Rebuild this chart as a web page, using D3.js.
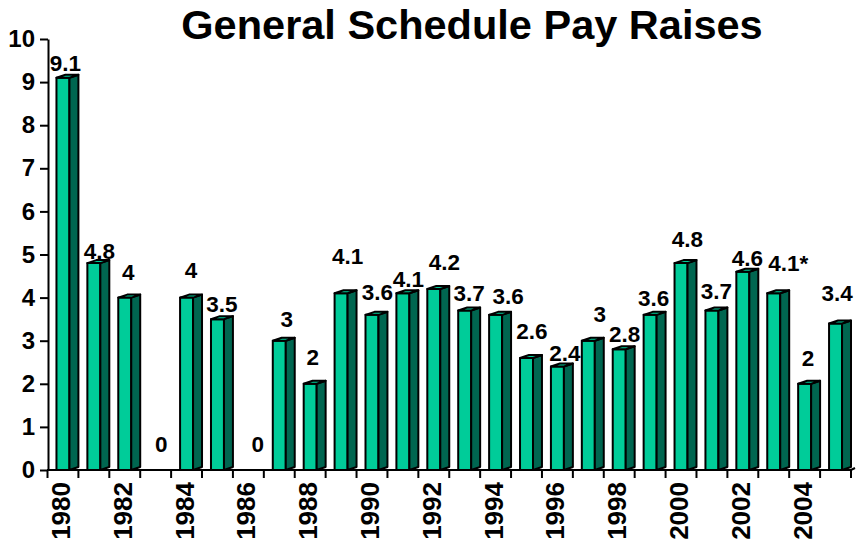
<!DOCTYPE html>
<html>
<head>
<meta charset="utf-8">
<script src="https://cdn.jsdelivr.net/npm/d3@7"></script>
<style>
    body { margin: 0; background: #fff; }
    svg { display: block; font-family: "Liberation Sans", Arial, sans-serif; font-weight: bold; }
</style>
</head>
<body>
<svg id="chart" width="858" height="542"></svg>
<script>
// data
const years = d3.range(1980, 2006);
const raises = [9.1, 4.8, 4, 0, 4, 3.5, 0, 3, 2, 4.1, 3.6, 4.1, 4.2, 3.7, 3.6, 2.6, 2.4, 3, 2.8, 3.6, 4.8, 3.7, 4.6, 4.1, 2, 3.4];
const footnoted = [2003];
const yTicks = [0, 1, 2, 3, 4, 5, 6, 7, 8, 9, 10];
const yearLabels = years.filter(y => y % 2 === 0 && y < 2005);
const title = "General Schedule Pay Raises";

// hand placed label nudges [dx, lift above bar], like the original chart
const labelNudge = [
    [-2, 7], [1, 4], [-1, 18], [1, 18], [0, 20], [0, 7], [5, 18], [3, 14], [-2, 19], [2, 29],
    [1, 15], [1, 6], [6, 19], [0, 10], [8, 11], [1, 19], [3, 6], [7, 19], [1, 7], [-1, 9],
    [2, 16], [0, 12], [0, 6], [10, 22], [-1, 18], [-3, 22]
];

const front = '#00cc99';
const side = '#006650';
const depth = 3;

const svg = d3.select('#chart');

const x = d3.scaleBand()
    .domain(years)
    .range([47.5, 851])
    .padding(0);
const y = d3.scaleLinear()
    .domain([0, 10])
    .range([470, 39]);
const bw = x.bandwidth();

svg.append('text')
    .attr('x', 472)
    .attr('y', 39)
    .attr('text-anchor', 'middle')
    .attr('font-size', '41.5px')
    .text(title);

// bars
const bars = svg.append('g').attr('class', 'bars')
    .selectAll('g')
    .data(years.map((yr, i) => ({year: yr, value: raises[i], i: i})))
    .enter().append('g');

bars.each(function (d) {
    const g = d3.select(this);
    const x0 = x(d.year) + bw * 0.29;
    const x1 = x0 + bw * 0.42;
    const x2 = x(d.year) + bw;
    const top = y(d.value);
    const base = y(0);
    if (d.value > 0) {
        g.append('path')
            .attr('d', `M${x0},${base} L${x0},${top} L${x1},${top} L${x1},${base} Z`)
            .style('fill', front);
        g.append('path')
            .attr('d', `M${x1},${base} L${x1},${top} L${x2},${top - depth} L${x2},${base - depth} Z`)
            .style('fill', side);
        g.append('path')
            .attr('d', `M${x0},${top} L${x0 + (x2 - x1)},${top - depth} L${x2},${top - depth} L${x1},${top} Z`)
            .style('fill', front);
        g.selectAll('path')
            .style('stroke', '#000')
            .style('stroke-width', 2)
            .style('stroke-linejoin', 'round');
    }
});

// value labels
bars.append('text')
    .attr('x', d => x(d.year) + bw * 0.29 + bw * 0.355 + labelNudge[d.i][0])
    .attr('y', d => y(d.value) - labelNudge[d.i][1])
    .attr('text-anchor', 'middle')
    .attr('font-size', '22.5px')
    .text(d => d.value + (footnoted.includes(d.year) ? '*' : ''));

// y axis
const yAxis = svg.append('g')
    .attr('transform', 'translate(48,0)')
    .call(d3.axisLeft(y)
        .tickValues(yTicks)
        .tickSize(8)
        .tickSizeOuter(0)
        .tickPadding(5));
yAxis.select('.domain').attr('stroke-width', 2);
yAxis.selectAll('.tick line').attr('stroke-width', 2);
yAxis.selectAll('.tick text')
    .attr('font-size', '24px')
    .attr('font-family', '"Liberation Sans", Arial, sans-serif')
    .attr('font-weight', 'bold')
    .attr('fill', '#000');

// x axis: line, ticks on band edges, rotated even year labels
const xAxis = svg.append('g').attr('class', 'xaxis');
xAxis.append('path')
    .attr('d', `M47,${y(0)} L851,${y(0)} L855,${y(0) - 2}`)
    .style('fill', 'none')
    .style('stroke', '#000')
    .style('stroke-width', 2);
const edges = years.map(yr => x(yr)).concat([x(years[years.length - 1]) + bw]);
xAxis.selectAll('.xtick')
    .data(edges)
    .enter().append('line')
    .attr('class', 'xtick')
    .attr('x1', d => d)
    .attr('x2', d => d)
    .attr('y1', y(0))
    .attr('y2', y(0) + 8)
    .style('stroke', '#000')
    .style('stroke-width', 2);
xAxis.selectAll('.ylab')
    .data(yearLabels)
    .enter().append('text')
    .attr('class', 'ylab')
    .attr('transform', d => `translate(${x(d) + bw / 2 + 7},482) rotate(-90)`)
    .attr('text-anchor', 'end')
    .attr('font-size', '26px')
    .text(d => d);
</script>
</body>
</html>
